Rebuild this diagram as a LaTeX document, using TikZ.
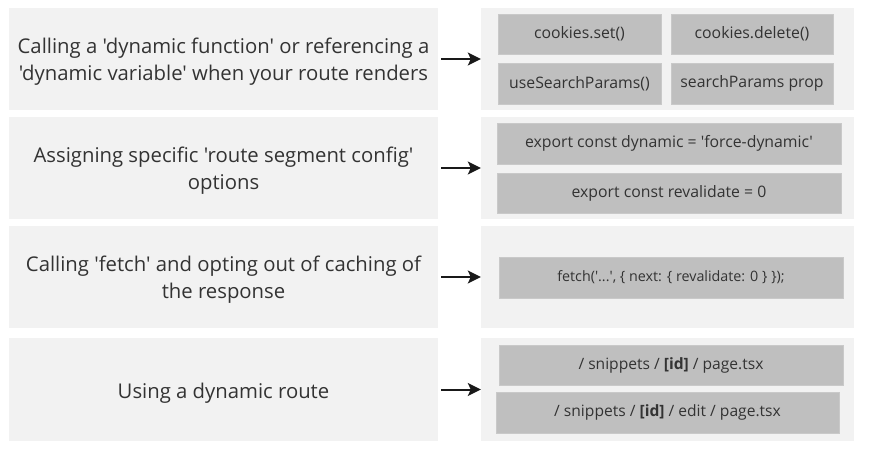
\documentclass[tikz,border=0pt]{standalone}
\usepackage{fontspec}
\setmainfont{Open Sans}[Ligatures=TeXOff]
\usetikzlibrary{arrows.meta}
\definecolor{outerbg}{HTML}{F2F2F2}
\definecolor{innerbg}{HTML}{BFBFBF}
\definecolor{innerln}{HTML}{C9C9C9}
\definecolor{txt}{HTML}{333333}
\tikzset{
  outerbox/.style={fill=outerbg, draw=none, inner sep=0pt},
  lefttext/.style={inner sep=0pt, align=center, text=txt, font=\fontsize{20.3}{27}\selectfont},
  innerbox/.style={fill=innerbg, draw=innerln, line width=0.6pt, inner sep=0pt, align=center, text=txt,
    font=\fontsize{15.8}{19}\selectfont},
  arr/.style={line width=2pt, -{Stealth[length=13pt,width=13pt,inset=3pt]}, shorten <=3pt, draw=black!90}
}
\begin{document}
\begin{tikzpicture}[x=1pt,y=-1pt]
\useasboundingbox (0,0) rectangle (879,455);
% left boxes
\node[outerbox, minimum width=429pt, minimum height=102pt] (L1) at (223.5,59) {};
\node[outerbox, minimum width=429pt, minimum height=102pt] (L2) at (223.5,168) {};
\node[outerbox, minimum width=429pt, minimum height=102pt] (L3) at (223.5,277) {};
\node[outerbox, minimum width=429pt, minimum height=103pt] (L4) at (223.5,389.5) {};
\node[lefttext] (L1t) at ([yshift=-3pt]L1.center) {Calling a 'dynamic function' or referencing a\\'dynamic variable' when your route renders};
\node[lefttext] (L2t) at ([yshift=-3pt]L2.center) {Assigning specific 'route segment config'\\options};
\node[lefttext] (L3t) at ([yshift=-3pt]L3.center) {Calling 'fetch' and opting out of caching of\\the response};
\node[lefttext] (L4t) at ([yshift=-4pt]L4.center) {Using a dynamic route};
% right boxes
\node[outerbox, minimum width=373pt, minimum height=102pt] (R1) at (667.5,59) {};
\node[outerbox, minimum width=373pt, minimum height=102pt] (R2) at (667.5,168) {};
\node[outerbox, minimum width=373pt, minimum height=102pt] (R3) at (667.5,277) {};
\node[outerbox, minimum width=373pt, minimum height=103pt] (R4) at (667.5,389.5) {};
% inner row 1
\node[innerbox, minimum width=163pt, minimum height=40pt] (a1) at (579.5,34) {cookies.set()};
\node[innerbox, minimum width=162pt, minimum height=40pt] (a2) at (752,34) {cookies.delete()};
\node[innerbox, minimum width=163pt, minimum height=41pt] (a3) at (579.5,83.5) {useSearchParams()};
\node[innerbox, minimum width=162pt, minimum height=41pt] (a4) at (752,83.5) {searchParams prop};
% inner row 2
\node[innerbox, minimum width=344pt, minimum height=41pt] (b1) at (669,143.5) {export const dynamic = 'force-dynamic'};
\node[innerbox, minimum width=344pt, minimum height=40pt] (b2) at (669,193) {export const revalidate = 0};
% inner row 3
\node[innerbox, minimum width=344pt, minimum height=41pt, font=\fontsize{14.3}{17}\selectfont] (c1) at (671,277.5) {fetch('...', \{ next: \{ revalidate: 0 \} \});};
% inner row 4
\node[innerbox, minimum width=344pt, minimum height=40pt, font=\fontsize{15.6}{19}\selectfont] (d1) at (671,365) {/ snippets / \textbf{[id]} / page.tsx};
\node[innerbox, minimum width=343pt, minimum height=41pt, font=\fontsize{15.6}{19}\selectfont] (d2) at (667.5,412.5) {/ snippets / \textbf{[id]} / edit / page.tsx};
% arrows
\draw[arr] (L1.east) -- (R1.west);
\draw[arr] (L2.east) -- (R2.west);
\draw[arr] (L3.east) -- (R3.west);
\draw[arr] (L4.east) -- (R4.west);
\end{tikzpicture}
\end{document}
